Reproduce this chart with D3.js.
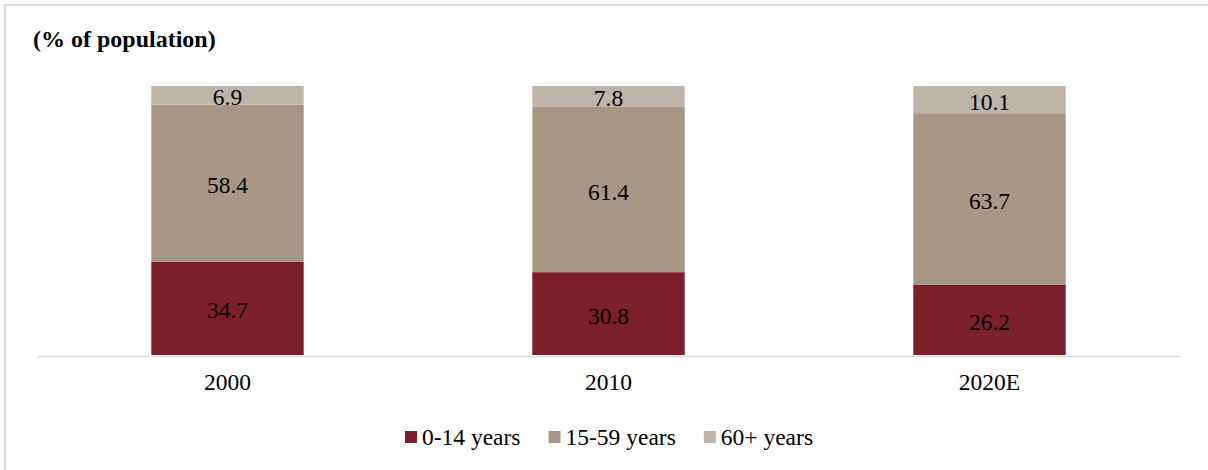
<!DOCTYPE html>
<html>
<head>
<meta charset="utf-8">
<script src="https://cdn.jsdelivr.net/npm/d3@7"></script>
<style>
  body { margin: 0; background: #fff; }
  text { font-family: "Liberation Serif", "Times New Roman", serif; fill: #000; }
</style>
</head>
<body>
<svg id="chart"></svg>
<script>
var width = 1208;
var height = 470;

var years = ["2000", "2010", "2020E"];
var groups = ["0-14 years", "15-59 years", "60+ years"];
var young = [34.7, 30.8, 26.2];
var working = [58.4, 61.4, 63.7];
var old = [6.9, 7.8, 10.1];
var colors = ["#7b1f2b", "#a69884", "#beb5aa"];

var rows = years.map((y, i) => ({
  year: y,
  "0-14 years": young[i],
  "15-59 years": working[i],
  "60+ years": old[i]
}));

var stack = d3.stack().keys(groups)(rows);

var xScale = d3.scaleBand()
               .domain(years)
               .range([37, 1180])
               .paddingInner(0.6)
               .paddingOuter(0.3);

var yScale = d3.scaleLinear()
               .domain([0, 100])
               .range([355, 86]);

var color = d3.scaleOrdinal()
              .domain(groups)
              .range(colors);

var svg = d3.select("#chart")
            .attr("width", width)
            .attr("height", height);

// frame (only top and left edges show in the picture)
svg.append("rect")
    .attr("x", 5)
    .attr("y", 5)
    .attr("width", width + 20)
    .attr("height", height + 20)
    .attr("fill", "none")
    .attr("stroke", "#d9d9d9")
    .attr("stroke-width", 2);

svg.append("text")
    .attr("x", 33)
    .attr("y", 47)
    .style("font-size", "24px")
    .style("font-weight", "bold")
    .text("(% of population)");

var layer = svg.selectAll(".layer")
  .data(stack)
  .enter()
  .append("g")
    .classed("layer", true)
    .attr("fill", d => color(d.key));

layer.selectAll("rect")
  .data(d => d)
  .enter()
  .append("rect")
    .attr("x", d => xScale(d.data.year))
    .attr("y", d => yScale(d[1]))
    .attr("width", xScale.bandwidth())
    .attr("height", d => yScale(d[0]) - yScale(d[1]));

layer.selectAll("text")
  .data(d => d.map(v => ({v: v, key: d.key})))
  .enter()
  .append("text")
    .attr("x", d => xScale(d.v.data.year) + xScale.bandwidth() / 2)
    .attr("y", d => (yScale(d.v[0]) + yScale(d.v[1])) / 2 + 10)
    .attr("text-anchor", "middle")
    .style("font-size", "23.5px")
    .text(d => d.v.data[d.key].toFixed(1));

var xAxis = d3.axisBottom(xScale)
              .tickSize(0)
              .tickPadding(0);

var axisG = svg.append("g")
    .attr("transform", "translate(0,356)")
    .call(xAxis);

axisG.select(".domain")
    .attr("stroke", "#d9d9d9")
    .attr("stroke-width", 1.5);

axisG.selectAll(".tick text")
    .attr("dy", 0)
    .attr("y", 34)
    .style("font-size", "23.5px")
    .style("font-family", "'Liberation Serif', 'Times New Roman', serif")
    .attr("fill", "#000");

// legend
var legend = svg.append("g");
var lx = 0;
groups.forEach(function (g, i) {
  var item = legend.append("g").attr("transform", "translate(" + lx + ",0)");
  item.append("rect")
      .attr("x", 0)
      .attr("y", 431)
      .attr("width", 12)
      .attr("height", 12)
      .attr("fill", color(g));
  var t = item.append("text")
      .attr("x", 17)
      .attr("y", 445)
      .style("font-size", "23.5px")
      .text(g);
  lx += 17 + t.node().getComputedTextLength() + 28;
});
var lw = lx - 28;
legend.attr("transform", "translate(" + (609 - lw / 2) + ",0)");
</script>
</body>
</html>
